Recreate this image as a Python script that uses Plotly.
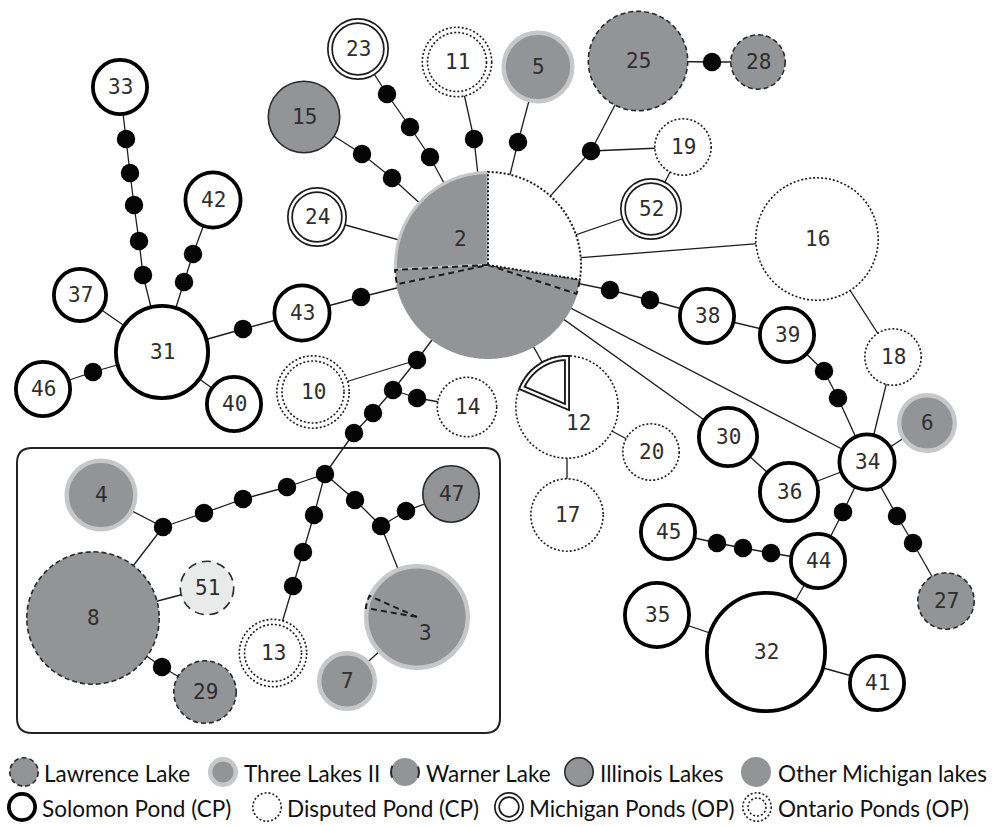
import math
import plotly.graph_objects as go

W, H = 992, 826

# ---- haplotypes (network layout in canvas units, radius ~ sample count) ----
node_ids = ["2", "3", "4", "5", "6", "7", "8", "10", "11", "12", "13", "14", "15", "16", "17", "18", "19", "20",
            "23", "24", "25", "27", "28", "29",
            "30", "31", "32", "33", "34", "35", "36", "37", "38", "39",
            "40", "41", "42", "43", "44", "45", "46",
            "47", "51", "52"]
node_x = [488, 417, 101, 538, 927, 347, 93, 313, 457, 567, 273, 467, 304, 817, 567, 893, 683, 651,
          358, 317, 638, 946, 758, 205,
          728, 162, 766, 120, 867, 657, 789, 80, 707, 787,
          234, 877, 213, 302, 818, 668, 43,
          451, 207, 651]
node_y = [265, 617, 495, 67, 423, 681, 618, 392, 62, 407, 653, 407, 117, 239, 515, 357, 147, 452,
          49, 217, 61, 601, 62, 692,
          437, 352, 652, 87, 462, 615, 492, 295, 316, 335,
          404, 683, 200, 313, 561, 532, 389,
          494, 588, 209]
node_r = [94, 53, 36.5, 36.5, 30, 30, 67, 37, 35.5, 52, 34.5, 30.5, 36.5, 62, 37, 29, 29, 29,
          31, 30, 50.5, 29, 28, 32,
          31, 48, 61, 29, 29.5, 34, 31, 28, 29, 29,
          29, 29, 29.5, 29.5, 29, 29, 29,
          29, 27.5, 31]
node_pop = ["mixed", "three", "three", "three", "three", "three", "lawrence", "ontario", "ontario", "disputed",
            "ontario", "disputed", "illinois", "disputed", "disputed", "disputed", "disputed", "disputed",
            "michigan", "michigan", "lawrence", "lawrence", "lawrence", "lawrence",
            "solomon", "solomon", "solomon", "solomon", "solomon", "solomon", "solomon", "solomon", "solomon", "solomon",
            "solomon", "solomon", "solomon", "solomon", "solomon", "solomon", "solomon",
            "illinois", "pale", "michigan"]

# shared haplotypes: (node, population, start angle, end angle) in degrees
pie_node = ["2", "2", "2", "2", "2", "12", "3"]
pie_pop = ["other", "three", "lawrence", "lawrence", "disputed", "michigan", "lawrence"]
pie_a0 = [192, 90, 183, -18, -9, 90, 156]
pie_a1 = [342, 183, 192, -9, 90, 157, 170]

# label nudges for pie-split haplotypes
label_shift = {"2": (-28, -26), "12": (11, 16), "3": (8, 16)}

# ---- inferred mutational steps (black dots) ----
step_ids = ["m%d" % i for i in range(1, 47)]
step_x = [126, 130, 134, 139, 143, 193, 184, 93, 243, 361, 362, 392, 387, 410, 430, 474, 518, 591, 712,
          610, 650, 824, 838, 843, 897, 913, 717, 743, 771,
          417, 393, 417, 373, 354, 325, 287, 243, 204, 163, 314, 303, 293, 355, 381, 406, 162]
step_y = [139, 173, 205, 241, 275, 254, 282, 372, 329, 297, 154, 178, 94, 127, 157, 139, 142, 151, 62,
          290, 300, 371, 398, 512, 516, 543, 543, 548, 553,
          360, 390, 398, 413, 433, 474, 487, 499, 513, 527, 515, 552, 586, 500, 526, 511, 667]

edges = [
    ("33", "m1"), ("m1", "m2"), ("m2", "m3"), ("m3", "m4"), ("m4", "m5"), ("m5", "31"),
    ("42", "m6"), ("m6", "m7"), ("m7", "31"),
    ("37", "31"), ("46", "m8"), ("m8", "31"), ("40", "31"),
    ("31", "m9"), ("m9", "43"), ("43", "m10"), ("m10", "2"),
    ("15", "m11"), ("m11", "m12"), ("m12", "2"),
    ("23", "m13"), ("m13", "m14"), ("m14", "m15"), ("m15", "2"),
    ("11", "m16"), ("m16", "2"), ("5", "m17"), ("m17", "2"),
    ("25", "m18"), ("m18", "2"), ("m18", "19"), ("25", "m19"), ("m19", "28"),
    ("19", "52"), ("52", "2"), ("16", "2"), ("24", "2"),
    ("2", "m20"), ("m20", "m21"), ("m21", "38"), ("38", "39"), ("39", "m22"), ("m22", "m23"), ("m23", "34"),
    ("16", "18"), ("18", "34"), ("2", "30"), ("30", "36"), ("36", "34"), ("2", "34"), ("34", "6"),
    ("34", "m24"), ("m24", "44"), ("34", "m25"), ("m25", "m26"), ("m26", "27"),
    ("45", "m27"), ("m27", "m28"), ("m28", "m29"), ("m29", "44"), ("44", "32"), ("32", "35"), ("32", "41"),
    ("2", "12"), ("12", "20"), ("12", "17"),
    ("2", "m30"), ("m30", "10"), ("m30", "m31"), ("m31", "m32"), ("m32", "14"),
    ("m31", "m33"), ("m33", "m34"), ("m34", "m35"),
    ("m35", "m36"), ("m36", "m37"), ("m37", "m38"), ("m38", "m39"), ("m39", "4"), ("m39", "8"),
    ("m35", "m40"), ("m40", "m41"), ("m41", "m42"), ("m42", "13"),
    ("m35", "m43"), ("m43", "m44"), ("m44", "m45"), ("m45", "47"), ("m44", "3"),
    ("8", "51"), ("8", "m46"), ("m46", "29"), ("3", "7"),
]

# ---- legend ----
legend_labels = ["Lawrence Lake", "Three Lakes II", "Warner Lake", "Illinois Lakes", "Other Michigan lakes",
                 "Solomon Pond (CP)", "Disputed Pond (CP)", "Michigan Ponds (OP)", "Ontario Ponds (OP)"]
legend_pops = ["lawrence", "three", "warner", "illinois", "other",
               "solomon", "disputed", "michigan", "ontario"]

GRAY = "#939496"
LIGHT = "#c6c7c8"
INK = "#1c1c1c"

pos = {n: (x, y) for n, x, y in zip(node_ids, node_x, node_y)}
pos.update({s: (x, y) for s, x, y in zip(step_ids, step_x, step_y)})

shapes = []
annotations = []


def circle(cx, cy, r, fill, color, width, dash="solid"):
    shapes.append(dict(type="circle", xref="x", yref="y", layer="above",
                       x0=cx - r, x1=cx + r, y0=cy - r, y1=cy + r,
                       fillcolor=fill,
                       line=dict(color=color, width=width, dash=dash)))


def side_arcs(r, arc_deg=50):
    # dash pattern giving two dark arcs, centred on the left and right of a circle
    c = 2 * math.pi * r
    on = c * arc_deg / 360
    off = c / 2 - on
    return "%.2fpx,%.2fpx,%.2fpx,%.2fpx,%.2fpx" % (on / 2, off, on, off, on / 2)


def population_disc(cx, cy, r, pop):
    if pop == "solomon":
        w = 3.8
        circle(cx, cy, r - w / 2, "white", "black", w)
    elif pop == "disputed":
        circle(cx, cy, r - 0.8, "white", INK, 1.6, "2px,2px")
    elif pop == "michigan":
        circle(cx, cy, r - 3, "white", INK, 6)
        circle(cx, cy, r - 3, "rgba(0,0,0,0)", "white", 2.6)
    elif pop == "ontario":
        circle(cx, cy, r - 0.8, "white", INK, 1.6, "2px,2px")
        circle(cx, cy, r - 6, "rgba(0,0,0,0)", INK, 1.6, "2px,2px")
    elif pop == "three":
        circle(cx, cy, r - 2.2, GRAY, LIGHT, 4.4)
    elif pop == "lawrence":
        circle(cx, cy, r - 0.8, GRAY, "#2a2a2a", 1.6, "5px,3px")
    elif pop == "warner":
        circle(cx, cy, r - 1, GRAY, "#2a2a2a", 2, side_arcs(r - 1))
    elif pop == "illinois":
        circle(cx, cy, r - 0.8, GRAY, "#2a2a2a", 1.6)
    elif pop == "other":
        circle(cx, cy, r, GRAY, GRAY, 0)
    elif pop == "pale":
        circle(cx, cy, r - 0.8, "#e9eaea", "#2a2a2a", 1.6, "9px,6px")


def sector_path(cx, cy, r, a0, a1):
    n = max(4, int(abs(a1 - a0)))
    pts = ["M %.2f,%.2f" % (cx, cy)]
    for i in range(n + 1):
        a = math.radians(a0 + (a1 - a0) * i / n)
        pts.append("L %.2f,%.2f" % (cx + r * math.cos(a), cy - r * math.sin(a)))
    return " ".join(pts) + " Z"


def sector(cx, cy, r, a0, a1, pop, parent_pop):
    def add(path_r, fill, color, width, dash="solid"):
        shapes.append(dict(type="path", xref="x", yref="y", layer="above",
                           path=sector_path(cx, cy, path_r, a0, a1),
                           fillcolor=fill, line=dict(color=color, width=width, dash=dash)))
    if pop == "other":
        add(r, GRAY, GRAY, 0)
    elif pop == "three":
        add(r - 1.5, GRAY, LIGHT, 3)
    elif pop == "lawrence":
        add(r - 1, "rgba(0,0,0,0)" if parent_pop == "three" else GRAY, INK, 2, "6px,4px")
    elif pop == "disputed":
        add(r - 1, "white", INK, 2, "2px,2px")
    elif pop == "michigan":
        add(r - 3, "white", INK, 6)
        add(r - 3, "rgba(0,0,0,0)", "white", 2.2)


# box around the lake haplogroup
bx0, by0, bx1, by1, rr = 17, 448, 500, 733, 15
shapes.append(dict(
    type="path", xref="x", yref="y", layer="below",
    path=("M %d,%d L %d,%d Q %d,%d %d,%d L %d,%d Q %d,%d %d,%d L %d,%d Q %d,%d %d,%d L %d,%d Q %d,%d %d,%d Z" % (
        bx0 + rr, by0, bx1 - rr, by0, bx1, by0, bx1, by0 + rr, bx1, by1 - rr, bx1, by1, bx1 - rr, by1,
        bx0 + rr, by1, bx0, by1, bx0, by1 - rr, bx0, by0 + rr, bx0, by0, bx0 + rr, by0)),
    line=dict(color="#222", width=2), fillcolor="rgba(0,0,0,0)"))

# haplotype discs
for n, x, y, r, p in zip(node_ids, node_x, node_y, node_r, node_pop):
    if p != "mixed":
        population_disc(x, y, r, p)
    for i, pn in enumerate(pie_node):
        if pn == n:
            sector(x, y, r, pie_a0[i], pie_a1[i], pie_pop[i], p)
    dx, dy = label_shift.get(n, (0, 0))
    annotations.append(dict(x=x + dx, y=y + dy, xref="x", yref="y", text=n, showarrow=False,
                            font=dict(family="DejaVu Sans Mono", size=21, color="#2e2e2e")))

# legend keys
leg_row = [0, 0, 0, 0, 0, 1, 1, 1, 1]
leg_key_x = [24, 223, 405, 579, 756, 22, 267, 509, 757]
leg_text_x = [42, 242, 424, 598, 776, 40, 285, 527, 776]
leg_row_y = [772, 807]
for lab, p, row, kx, tx in zip(legend_labels, legend_pops, leg_row, leg_key_x, leg_text_x):
    ky = leg_row_y[row]
    population_disc(kx, ky, 15, p)
    annotations.append(dict(x=tx, y=ky + 1, xref="x", yref="y", text=lab, showarrow=False,
                            xanchor="left", yanchor="middle",
                            font=dict(family="Lato", size=22.5, color="#111")))

# edges
ex, ey = [], []
for a, b in edges:
    ex += [pos[a][0], pos[b][0], None]
    ey += [pos[a][1], pos[b][1], None]

fig = go.Figure()
fig.add_trace(go.Scatter(x=ex, y=ey, mode="lines", line=dict(color=INK, width=1.3),
                         hoverinfo="skip", showlegend=False))
fig.add_trace(go.Scatter(x=step_x, y=step_y, mode="markers",
                         marker=dict(size=18.5, color="#050505", line=dict(width=0)),
                         hoverinfo="skip", showlegend=False))

fig.update_layout(
    width=W, height=H, autosize=False,
    margin=dict(l=0, r=0, t=0, b=0),
    paper_bgcolor="white", plot_bgcolor="white",
    xaxis=dict(range=[0, W], visible=False, fixedrange=True),
    yaxis=dict(range=[H, 0], visible=False, fixedrange=True),
    shapes=shapes, annotations=annotations, showlegend=False,
)

fig.write_html("out.html")
